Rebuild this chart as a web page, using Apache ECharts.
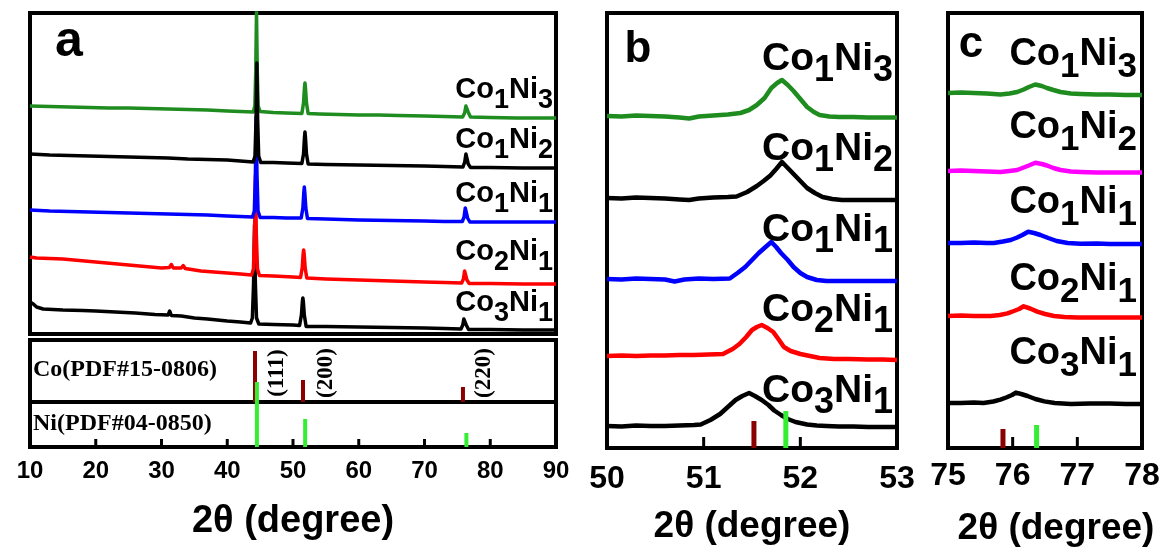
<!DOCTYPE html>
<html><head><meta charset="utf-8">
<script src="https://cdn.jsdelivr.net/npm/echarts@6/dist/echarts.min.js"></script>
<style>html,body{margin:0;padding:0;background:#fff}#c{width:1166px;height:552px}</style>
</head><body><div id="c"></div><script>
// ---------- DATA (2theta in degrees, intensity in arbitrary offset units) ----------
const samples = ['Co3Ni1','Co2Ni1','Co1Ni1','Co1Ni2','Co1Ni3'];

// Panel a: full patterns (offset intensities)
const aCo1Ni3 = [[10,228],[13,227.5],[16,227],[19,226.5],[22,226],[25,226],[28,225.5],[31,225],[34,224.5],[37,224],[40,223],[42,222.5],[43.95,222],[44.2,228],[44.33,262],[44.45,322],[44.57,262],[44.7,228],[45,222.5],[47,221.5],[49,221],[51.35,220.5],[51.6,231],[51.74,246],[51.82,251],[51.9,246],[52.05,231],[52.3,220.5],[54,220],[57,219.5],[60,219],[63,219],[66,218.5],[70,218],[73,217.5],[75.8,217],[76.1,221],[76.3,228],[76.45,228],[76.7,221],[77,217],[80,216.5],[84,216],[87,216],[90,216]];
const aCo1Ni2 = [[10,180],[13,179],[16,178.5],[19,178],[22,177.5],[25,177],[28,176.5],[31,176],[34,175],[37,174.5],[40,174],[42,173],[43.95,172],[44.22,178],[44.38,215],[44.5,271],[44.62,215],[44.78,178],[45.1,171.5],[47,171.5],[49,171],[51.35,170.5],[51.6,180],[51.74,196],[51.82,202],[51.9,196],[52.05,180],[52.3,170],[55,169.5],[60,169],[65,168.5],[70,168],[73,167.5],[75.85,167],[76.12,172],[76.3,180],[76.42,178],[76.65,170],[77,166.5],[80,166.5],[85,166],[90,166]];
const aCo1Ni1 = [[10,124],[13,123],[16,122.5],[19,122],[22,121.5],[25,121],[28,120.5],[31,120],[34,119.5],[37,119],[40,118],[42,117.5],[43.85,117],[44.12,123],[44.28,160],[44.4,217],[44.52,160],[44.68,123],[45,116.5],[47,116.5],[49,116],[51.25,116],[51.5,126],[51.64,141],[51.72,147],[51.8,141],[51.95,126],[52.2,115.5],[55,115],[60,114],[65,113.5],[70,113],[73,112.5],[75.75,112.5],[76.02,117],[76.2,126],[76.32,124],[76.55,116],[76.9,112],[80,112],[85,112],[90,112]];
const aCo2Ni1 = [[10,77],[11,76],[13,75.5],[15,75],[17.5,73.5],[20,72],[22.5,70.5],[25,69],[27.5,67.5],[30,66],[31.2,66.5],[31.5,69.5],[31.8,66],[33,66],[33.3,68.5],[33.6,65.5],[36,63],[38,62],[40,61],[42,60],[43.7,59],[43.98,65],[44.15,100],[44.3,159],[44.42,100],[44.6,65],[44.9,58.5],[47,58],[50,57],[51.15,56.5],[51.4,66],[51.54,80],[51.62,84],[51.7,80],[51.85,66],[52.1,56],[55,55],[60,54],[65,53],[70,52],[73,51.5],[75.65,51],[75.92,55],[76.1,63],[76.22,62],[76.45,54],[76.8,50.5],[80,50.5],[85,50],[90,50]];
const aCo3Ni1 = [[10,32],[10.5,30],[11,27],[12,25],[15,24],[18,23.5],[20,23],[23,22],[26,21],[29,19.5],[31,19],[31.25,23],[31.5,18.5],[33,18],[35,16],[37,15],[40,13],[42,12],[43.55,11],[43.82,16],[44.0,50],[44.15,109],[44.28,50],[44.45,16],[44.8,10],[47,9.5],[50,9],[51.0,8.5],[51.28,19],[51.42,32],[51.5,36],[51.58,32],[51.72,19],[52.0,7.5],[55,7.5],[60,7],[65,6.5],[70,6],[73,5.5],[75.55,5],[75.82,9],[75.98,15],[76.1,16],[76.35,9],[76.7,4.5],[80,4.5],[85,4],[90,4]];

// Reference patterns (positions, relative stick heights)
const coRefPos = [44.22, 51.52, 75.85];
const coRefA   = [51, 22, 15];
const niRefPos = [44.51, 51.85, 76.37];
const niRefA   = [65, 28, 14];
const millerLabels = ['(111)', '(200)', '(220)'];

// Panel b: (200) region
const bCo1Ni3 = [[50,332],[50.15,331.5],[50.3,332.5],[50.45,332],[50.6,331.5],[50.75,330.5],[50.85,329.5],[50.95,331.5],[51.1,332.5],[51.25,333.5],[51.38,335],[51.47,338],[51.55,343],[51.63,350],[51.7,360],[51.76,365],[51.81,368],[51.87,363],[51.93,357],[52.0,349],[52.07,341],[52.14,336],[52.2,333],[52.3,331.5],[52.4,331],[52.55,331],[52.7,330.5],[52.85,330.5],[53,330.5]];
const bCo1Ni2 = [[50,250],[50.15,249.5],[50.3,250.5],[50.45,250],[50.6,249.5],[50.75,248.5],[50.85,248],[50.95,249.5],[51.1,250.5],[51.25,251],[51.34,251.5],[51.45,256],[51.55,262],[51.62,267],[51.69,272.5],[51.75,279],[51.81,286],[51.87,280],[51.93,274],[52.0,267],[52.07,260],[52.15,255],[52.23,251],[52.33,249],[52.43,248],[52.6,248],[52.75,248],[52.9,248],[53,248]];
const bCo1Ni1 = [[50,169],[50.15,168.5],[50.3,169.5],[50.45,169],[50.6,168.5],[50.7,166.5],[50.8,168.5],[50.95,169.5],[51.1,169],[51.27,169.5],[51.35,175],[51.43,181],[51.5,188],[51.57,195],[51.64,201],[51.7,206],[51.75,201],[51.8,195],[51.87,188],[51.93,181],[52.0,175],[52.07,171],[52.17,168],[52.27,167],[52.4,167],[52.6,167],[52.8,167],[53,167]];
const bCo2Ni1 = [[50,92],[50.15,92.5],[50.3,92],[50.45,92.5],[50.6,92.5],[50.75,93],[50.9,93],[51.05,93.5],[51.2,94],[51.3,99],[51.37,104],[51.44,111],[51.5,118],[51.55,121],[51.6,123],[51.66,120],[51.72,116],[51.78,108],[51.83,101],[51.9,97],[52.0,94],[52.1,92],[52.2,90],[52.35,89],[52.5,89],[52.7,88.5],[52.85,88.5],[53,88]];
const bCo3Ni1 = [[50,22],[50.15,21.5],[50.3,22.5],[50.45,22],[50.6,22],[50.75,22.5],[50.9,23],[50.97,23.5],[51.07,28],[51.17,34],[51.25,41],[51.33,48],[51.4,52],[51.47,55],[51.53,52],[51.6,48],[51.67,43],[51.73,37.5],[51.8,33],[51.87,29],[51.95,26],[52.07,23.5],[52.17,22.5],[52.27,22],[52.4,21.5],[52.55,21.5],[52.7,21],[52.85,21],[53,21]];
const bCoRefPos = [51.52], bCoRefA = [27];
const bNiRefPos = [51.85], bNiRefA = [37];

// Panel c: (220) region
const cCo1Ni3 = [[75,355],[75.2,355.5],[75.4,355],[75.6,354.5],[75.81,353.6],[75.95,354.5],[76.07,356],[76.17,358.5],[76.25,361],[76.35,363.5],[76.45,362],[76.53,360],[76.63,358],[76.74,356],[76.9,354.5],[77.05,354],[77.3,353.5],[77.5,353.5],[77.75,353],[78,353]];
const cCo1Ni2 = [[75,277],[75.2,277.5],[75.4,277],[75.6,276.5],[75.81,276],[75.95,277],[76.07,278],[76.17,280.5],[76.25,282.5],[76.35,285.3],[76.45,284],[76.53,282.5],[76.63,280],[76.74,278],[76.9,276.5],[77.05,276],[77.3,275.5],[77.5,275.5],[77.75,275.5],[78,275.5]];
const cCo1Ni1 = [[75,205],[75.2,205],[75.4,205.5],[75.6,205],[75.71,205],[75.85,206.5],[75.97,208],[76.07,210.5],[76.15,213],[76.24,216.3],[76.33,215],[76.43,213],[76.55,210],[76.68,207],[76.85,205],[77.05,204.3],[77.3,204.5],[77.5,204],[77.75,204],[78,204]];
const cCo2Ni1 = [[75,132],[75.2,132.5],[75.4,132],[75.66,132],[75.8,133],[75.92,134.6],[76.02,137],[76.1,139],[76.17,141.7],[76.27,139.5],[76.38,136.4],[76.5,134],[76.64,132],[76.8,131],[77.0,130.4],[77.3,130.5],[77.5,130.4],[77.75,130.4],[78,130.4]];
const cCo3Ni1 = [[75,45],[75.2,45],[75.4,45.5],[75.55,45],[75.7,46.5],[75.81,48.4],[75.9,50.5],[75.99,53],[76.05,55.4],[76.13,54],[76.23,52],[76.35,49],[76.49,46.6],[76.65,45],[76.9,44.1],[77.2,44.5],[77.5,44.5],[77.75,44],[78,44]];
const cCoRefPos = [75.85], cCoRefA = [19];
const cNiRefPos = [76.37], cNiRefA = [23];

// Inner tick positions of the 2theta axes
const aTicks = [20, 30, 40, 50, 60, 70, 80];
const bTicks = [51, 52];
const cTicks = [76, 77];

// ---------- CHART ----------
const BLACK = '#000', GREEN = '#1e8c1e', BLUE = '#0000ff', RED = '#ff0000', MAGENTA = '#ff00ff';
const CO_C = '#8b0000', NI_C = '#33ee33';
const SANS = 'Liberation Sans, Arial, sans-serif';
const SERIF = 'Liberation Serif, Times New Roman, serif';

const chart = echarts.init(document.getElementById('c'), null, {renderer: 'canvas'});

function gridBox(left, top, width, height) {
  return {left, top, width, height, show: true, borderColor: BLACK, borderWidth: 4, backgroundColor: 'transparent', containLabel: false};
}
function hiddenX(gi, min, max) { return {gridIndex: gi, type: 'value', min, max, show: false}; }
function hiddenY(gi, min, max) { return {gridIndex: gi, type: 'value', min, max, show: false}; }
function shownX(gi, min, max, interval, o) {
  return {
    gridIndex: gi, type: 'value', min, max, interval,
    axisLine: {show: true, onZero: false, lineStyle: {width: 4, color: BLACK}},
    splitLine: {show: false},
    axisTick: {show: false},
    axisLabel: {show: true, margin: o.margin, fontSize: o.labelSize, fontWeight: 'bold', color: BLACK, fontFamily: SANS, showMinLabel: true, showMaxLabel: true, hideOverlap: false},
    name: '2\u03b8 (degree)', nameLocation: 'middle', nameGap: o.nameGap,
    nameTextStyle: {fontSize: o.nameSize, fontWeight: 'bold', color: BLACK, fontFamily: SANS, padding: o.namePad || 0}
  };
}
function line(xi, data, color, width) {
  return {type: 'line', xAxisIndex: xi, yAxisIndex: xi, data, symbol: 'none', showSymbol: false,
    lineStyle: {color, width, join: 'round'}, silent: true, animation: false};
}
// vertical segments from 0 up to a height (reference sticks and inward tick marks)
function sticks(xi, pos, h, color, width) {
  return pos.map((x, i) => ({type: 'line', xAxisIndex: xi, yAxisIndex: xi, data: [[x, 0], [x, Array.isArray(h) ? h[i] : h]],
    symbol: 'none', showSymbol: false, clip: false, lineStyle: {color, width, cap: 'butt'}, silent: true, animation: false}));
}

// sample label rich text
const formula = {Co3Ni1: ['3','1'], Co2Ni1: ['2','1'], Co1Ni1: ['1','1'], Co1Ni2: ['1','2'], Co1Ni3: ['1','3']};
function rich(name) { const f = formula[name]; return '{m|Co}{s|' + f[0] + '}{m|Ni}{s|' + f[1] + '}'; }
function sampleText(name, x, y, size, sub, drop) {
  return {type: 'text', x, y, silent: true, style: {
    text: rich(name), align: 'right', verticalAlign: 'middle', fill: BLACK,
    rich: {
      m: {fontSize: size, fontWeight: 'bold', fontFamily: SANS, fill: BLACK},
      s: {fontSize: sub, fontWeight: 'bold', fontFamily: SANS, fill: BLACK, padding: [drop * 2, 0, 0, 0]}
    }}};
}
// label layout (annotation placement) per panel: order matches samples
const labA = {x: 553, y: [303, 252, 194, 140, 90], size: 29, sub: 27, drop: 11};
const labB = {x: 893, y: [391, 310, 230, 149, 59], size: 39, sub: 36, drop: 12};
const labC = {x: 1137, y: [354, 280, 203, 128, 55], size: 38, sub: 35, drop: 12};

const graphics = [];
[labA, labB, labC].forEach(L => samples.forEach((s, i) => graphics.push(sampleText(s, L.x, L.y[i], L.size, L.sub, L.drop))));
graphics.push({type: 'text', x: 69, y: 42, silent: true, style: {text: 'a', font: 'bold 50px ' + SANS, fill: BLACK, align: 'center', verticalAlign: 'middle'}});
graphics.push({type: 'text', x: 638, y: 50, silent: true, style: {text: 'b', font: 'bold 44px ' + SANS, fill: BLACK, align: 'center', verticalAlign: 'middle'}});
graphics.push({type: 'text', x: 971, y: 45, silent: true, style: {text: 'c', font: 'bold 44px ' + SANS, fill: BLACK, align: 'center', verticalAlign: 'middle'}});
graphics.push({type: 'text', x: 33, y: 370, silent: true, style: {text: 'Co(PDF#15-0806)', font: 'bold 24px ' + SERIF, fill: BLACK, align: 'left', verticalAlign: 'middle'}});
graphics.push({type: 'text', x: 33, y: 424, silent: true, style: {text: 'Ni(PDF#04-0850)', font: 'bold 24px ' + SERIF, fill: BLACK, align: 'left', verticalAlign: 'middle'}});
const millerX = [277, 326, 484];
millerLabels.forEach((t, i) => graphics.push({type: 'text', x: millerX[i], y: 373, rotation: Math.PI / 2, silent: true,
  style: {text: t, font: 'bold 23px ' + SERIF, fill: BLACK, align: 'center', verticalAlign: 'middle'}}));

const option = {
  animation: false,
  backgroundColor: '#fff',
  grid: [
    gridBox(30, 13, 526, 321),
    gridBox(30, 340, 526, 62),
    gridBox(30, 402, 526, 45),
    gridBox(607, 13, 290, 435),
    gridBox(948, 13, 194, 435)
  ],
  xAxis: [
    hiddenX(0, 10, 90),
    hiddenX(1, 10, 90),
    shownX(2, 10, 90, 10, {margin: 12, labelSize: 24, nameGap: 56, nameSize: 38}),
    shownX(3, 50, 53, 1, {margin: 15, labelSize: 32, nameGap: 60, nameSize: 37}),
    shownX(4, 75, 78, 1, {margin: 12, labelSize: 32, nameGap: 62, nameSize: 37, namePad: [0, 0, 0, 22]})
  ],
  yAxis: [
    hiddenY(0, 0, 321), hiddenY(1, 0, 62), hiddenY(2, 0, 45), hiddenY(3, 0, 435), hiddenY(4, 0, 435)
  ],
  series: [
    line(0, aCo1Ni3, GREEN, 3.5),
    line(0, aCo3Ni1, BLACK, 3.5),
    line(0, aCo2Ni1, RED, 3.5),
    line(0, aCo1Ni1, BLUE, 3.5),
    line(0, aCo1Ni2, BLACK, 3.5),
    ...sticks(1, coRefPos, coRefA, CO_C, 4),
    ...sticks(2, aTicks, 8, BLACK, 3),
    ...sticks(2, niRefPos, niRefA, NI_C, 4),
    line(3, bCo1Ni3, GREEN, 4.5),
    line(3, bCo1Ni2, BLACK, 4.5),
    line(3, bCo1Ni1, BLUE, 4.5),
    line(3, bCo2Ni1, RED, 4.5),
    line(3, bCo3Ni1, BLACK, 4.5),
    ...sticks(3, bTicks, 11, BLACK, 3),
    ...sticks(3, bCoRefPos, bCoRefA, CO_C, 5),
    ...sticks(3, bNiRefPos, bNiRefA, NI_C, 5),
    line(4, cCo1Ni3, GREEN, 4.5),
    line(4, cCo1Ni2, MAGENTA, 4.5),
    line(4, cCo1Ni1, BLUE, 4.5),
    line(4, cCo2Ni1, RED, 4.5),
    line(4, cCo3Ni1, BLACK, 4.5),
    ...sticks(4, cTicks, 11, BLACK, 3),
    ...sticks(4, cCoRefPos, cCoRefA, CO_C, 5),
    ...sticks(4, cNiRefPos, cNiRefA, NI_C, 5)
  ],
  graphic: graphics
};
chart.setOption(option);
</script></body></html>
